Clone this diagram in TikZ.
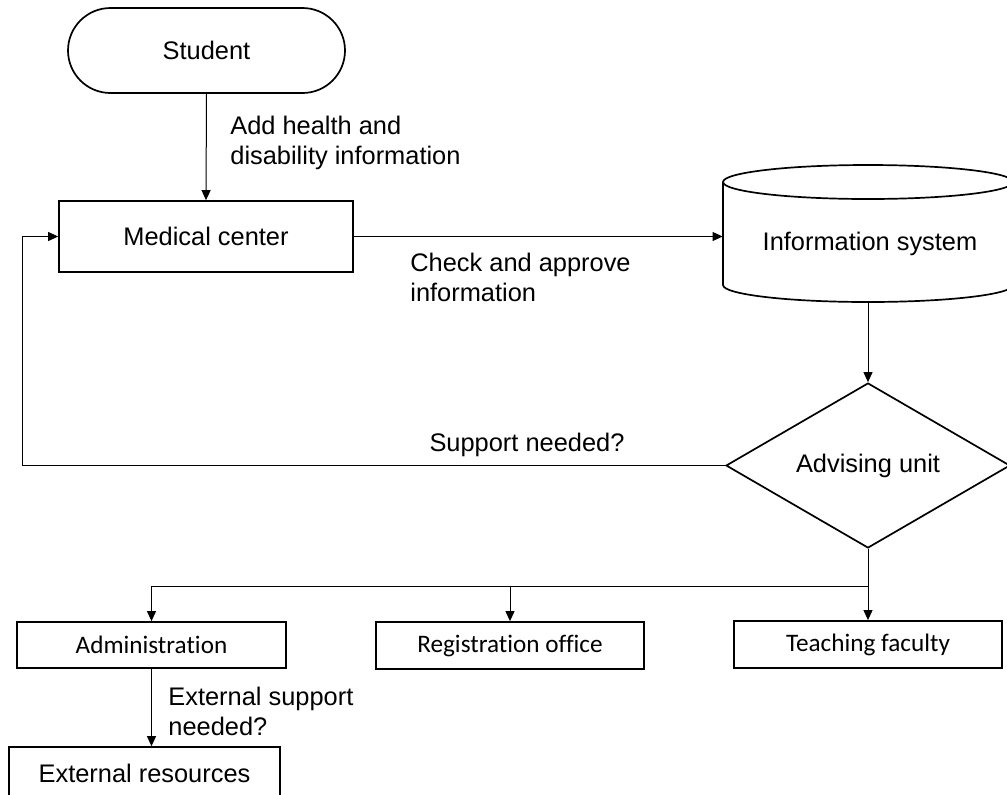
\documentclass[tikz,border=0pt]{standalone}
\usepackage{fontspec}
\setmainfont{Liberation Sans}
\newfontfamily\calib[Ligatures=NoCommon,Contextuals=NoAlternate]{Carlito}
\usetikzlibrary{shapes.geometric,arrows.meta}
\begin{document}
\begin{tikzpicture}[x=0.5pt,y=-0.5pt,
  every node/.style={font=\fontsize{12.7}{15}\selectfont},
  box/.style={draw,line width=0.85pt,inner sep=0pt},
  lowbox/.style={draw,line width=0.9pt,inner sep=0pt,font=\calib\fontsize{12.6}{15}\selectfont},
  conn/.style={line width=0.5pt},
  arr/.style={conn,-{Triangle[length=5pt,width=4.5pt]}},
  lbl/.style={align=left,anchor=west,inner sep=0pt}]
\useasboundingbox (0,0) rectangle (1007,794);
\begin{scope}
\clip (0,0) rectangle (1007,794);
% nodes
\node[box,rounded corners=21.25pt,minimum width=138.5pt,minimum height=42.5pt] (stu) at (206.5,50.5) {Student};
\node[box,minimum width=147pt,minimum height=35.5pt] (med) at (206,236.5) {Medical center};
\node[inner sep=0pt,minimum width=145pt,minimum height=69pt] (info) at (868,233) {};
\draw[line width=0.85pt] (723,182) -- (723,285) arc[start angle=180,end angle=360,x radius=72.5pt,y radius=8.5pt] -- (1013,182);
\draw[line width=0.85pt] (868,182) ellipse[x radius=72.5pt,y radius=8.5pt];
\node (infotext) at (870,244) {Information system};
\node[box,diamond,aspect=1.72,minimum width=142pt,minimum height=82.5pt] (adv) at (868,465.5) {Advising unit};
\node[lowbox,minimum width=134.5pt,minimum height=23pt] (adm) at (151.5,645) {Administration};
\node[lowbox,minimum width=134pt,minimum height=23.5pt] (reg) at (510,645.5) {Registration office};
\node[lowbox,minimum width=134pt,minimum height=23.5pt] (tea) at (868,644.5) {Teaching faculty};
\node[box,minimum width=135.5pt,minimum height=26pt] (ext) at (144.5,773) {External resources};
% labels
\node[lbl] (l1) at (230,143) {Add health and\\disability information};
\node[lbl] (l2) at (410,277) {Check and approve\\information};
\node (l3) at (527,445) {Support needed?};
\node[lbl] (l4) at (168,711) {External support\\needed?};
% connectors
\coordinate (lx) at (22,0);
\coordinate (split) at (868,586);
\draw[arr] (stu.south) -- (med.north);
\draw[arr] (med.east) -- (info.west |- med.east);
\draw[arr] (info.south) -- (adv.north);
\draw[arr] (adv.west) -- (adv.west -| lx) |- (med.west);
\draw[conn] (adv.south) -- (split);
\draw[arr] (split) -| (adm.north);
\draw[arr] (split) -| (reg.north);
\draw[arr] (split) -- (tea.north);
\draw[arr] (adm.south) -- (adm.south |- ext.north);
\end{scope}
\end{tikzpicture}
\end{document}
